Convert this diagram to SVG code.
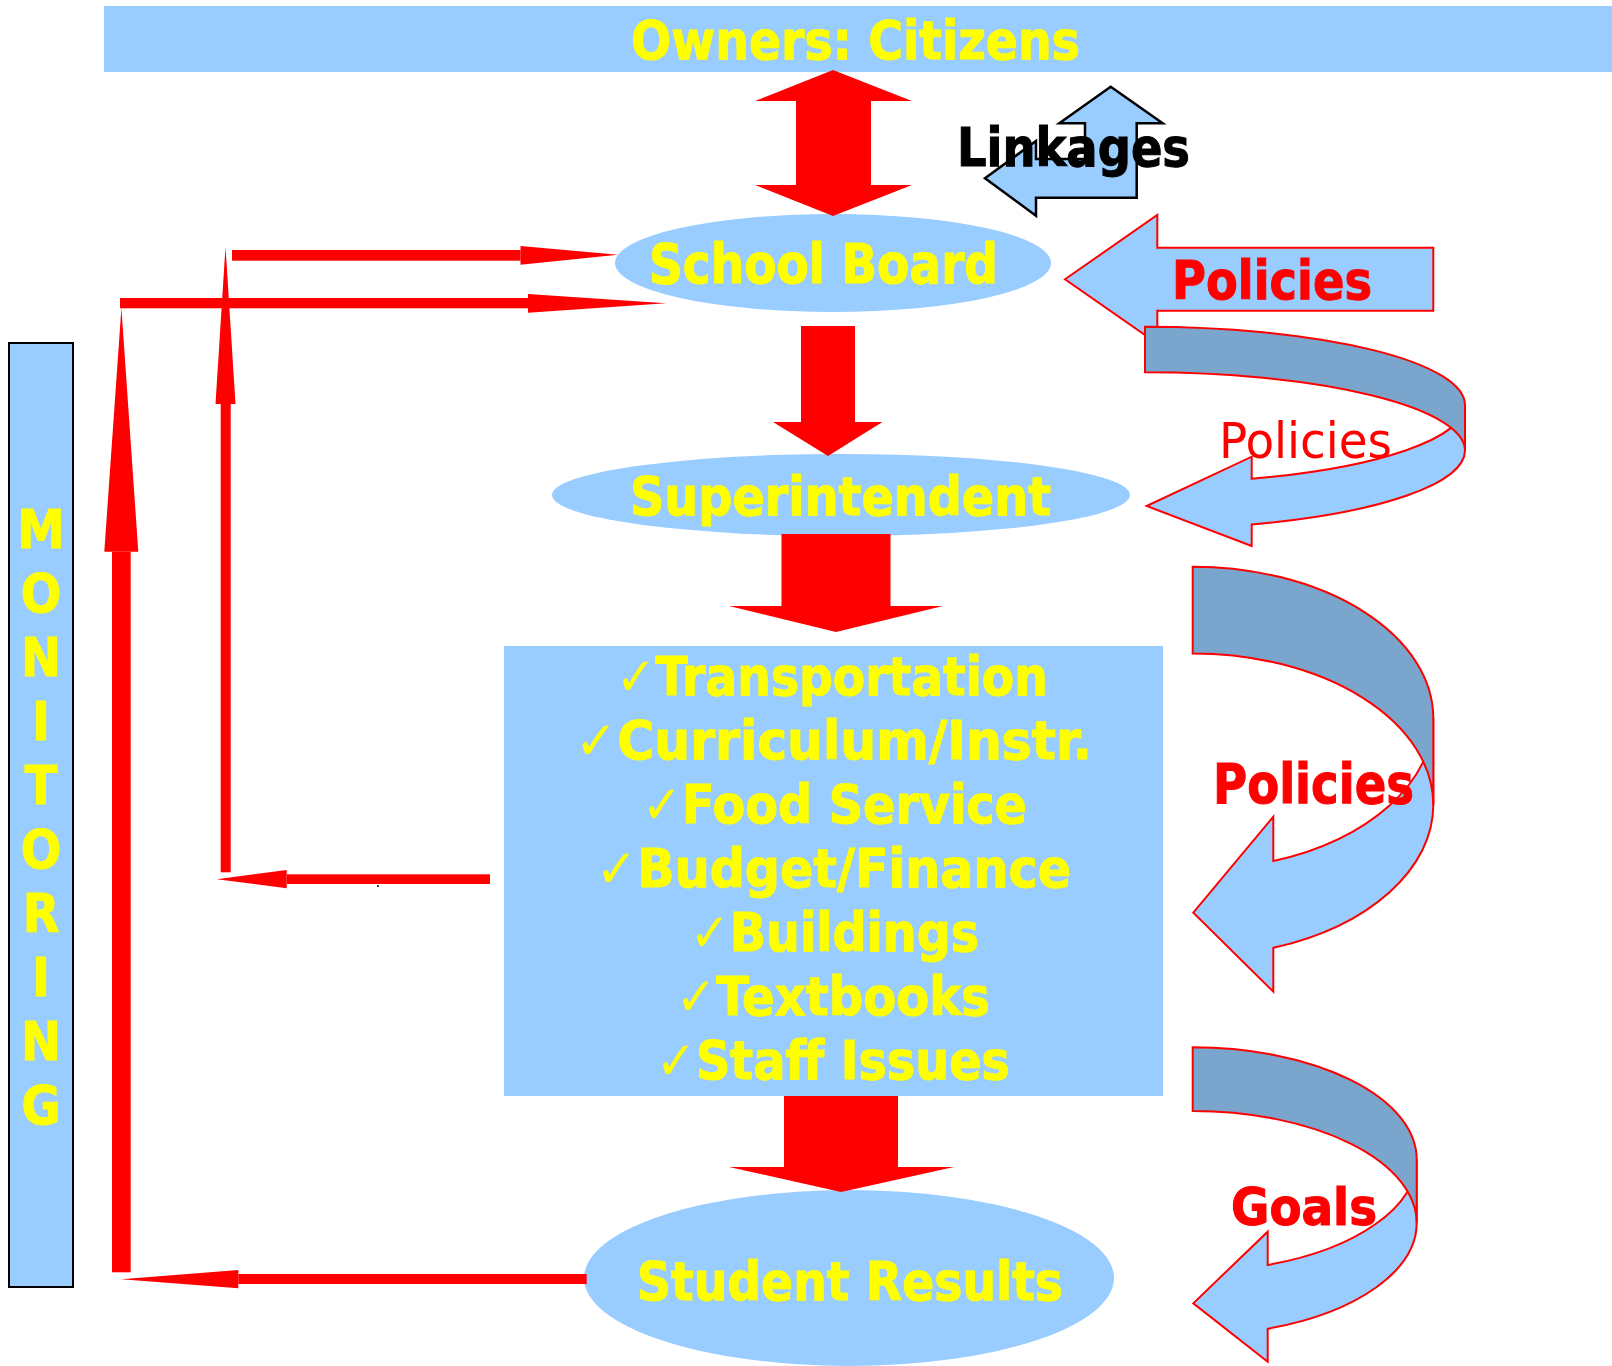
<svg xmlns="http://www.w3.org/2000/svg" width="1612" height="1366" viewBox="0 0 1612 1366">
  <style>
    .lbl { font-family: "DejaVu Sans Condensed", "DejaVu Sans", sans-serif; font-weight: bold; stroke-width: 1; }
    .yel { fill: #FFFF00; stroke: #FFFF00; }
    .red { fill: #FF0000; }
    .lbl.red { stroke: #FF0000; }
    .blk { fill: #000000; stroke: #000000; }
    .node { fill: #99CCFF; }
    .boxed { fill: #99CCFF; stroke: #000000; stroke-width: 2; }
    .flow { fill: #FF0000; }
    .band-light { fill: #99CCFF; stroke: #FF0000; stroke-width: 2; stroke-linejoin: miter; }
    .band-dark { fill: #7AA5CC; stroke: #FF0000; stroke-width: 2; }
    .chk { font-weight: normal; stroke-width: 0; }
  </style>

  <rect width="1612" height="1366" fill="#FFFFFF"/>

  <!-- Owners band -->
  <g id="owners">
    <rect class="node" x="104" y="6" width="1508" height="66"/>
    <text class="lbl yel" x="631" y="59" font-size="54" textLength="449" lengthAdjust="spacingAndGlyphs">Owners: Citizens</text>
  </g>

  <!-- Monitoring column -->
  <g id="monitoring">
    <rect class="boxed" x="9" y="343" width="64" height="944"/>
    <g class="lbl yel" font-size="53" text-anchor="middle">
      <text x="41" y="548">M</text>
      <text x="41" y="612">O</text>
      <text x="41" y="676">N</text>
      <text x="41" y="740">I</text>
      <text x="41" y="804">T</text>
      <text x="41" y="868">O</text>
      <text x="41" y="932">R</text>
      <text x="41" y="996">I</text>
      <text x="41" y="1060">N</text>
      <text x="41" y="1124">G</text>
    </g>
  </g>

  <!-- School Board -->
  <g id="school-board">
    <ellipse class="node" cx="833" cy="263" rx="218" ry="49"/>
    <text class="lbl yel" x="649" y="283" font-size="55" textLength="349" lengthAdjust="spacingAndGlyphs">School Board</text>
  </g>

  <!-- Superintendent -->
  <g id="superintendent">
    <ellipse class="node" cx="841" cy="495" rx="289" ry="41"/>
    <text class="lbl yel" x="630" y="515" font-size="54" textLength="421" lengthAdjust="spacingAndGlyphs">Superintendent</text>
  </g>

  <!-- Operations list -->
  <g id="operations">
    <rect class="node" x="504" y="646" width="659" height="450"/>
    <g class="lbl yel" font-size="53">
      <text x="616" y="695" textLength="432" lengthAdjust="spacingAndGlyphs"><tspan class="chk">✓</tspan>Transportation</text>
      <text x="575" y="759" textLength="517" lengthAdjust="spacingAndGlyphs"><tspan class="chk">✓</tspan>Curriculum/Instr.</text>
      <text x="642" y="823" textLength="385" lengthAdjust="spacingAndGlyphs"><tspan class="chk">✓</tspan>Food Service</text>
      <text x="596" y="887" textLength="475" lengthAdjust="spacingAndGlyphs"><tspan class="chk">✓</tspan>Budget/Finance</text>
      <text x="690" y="951" textLength="289" lengthAdjust="spacingAndGlyphs"><tspan class="chk">✓</tspan>Buildings</text>
      <text x="676" y="1015" textLength="314" lengthAdjust="spacingAndGlyphs"><tspan class="chk">✓</tspan>Textbooks</text>
      <text x="656" y="1079" textLength="354" lengthAdjust="spacingAndGlyphs"><tspan class="chk">✓</tspan>Staff Issues</text>
    </g>
  </g>

  <!-- Student Results -->
  <g id="student-results">
    <ellipse class="node" cx="849" cy="1278" rx="265" ry="88"/>
    <text class="lbl yel" x="637" y="1300" font-size="54" textLength="426" lengthAdjust="spacingAndGlyphs">Student Results</text>
  </g>

  <!-- Linkages bent arrow -->
  <g id="linkages">
    <path d="M1110.7,86.7 L1162.7,123.3 L1136.7,123.3 L1136.7,197.7 L1036,197.7 L1036,215.7 L985,178.3 L1036,141 L1036,159 L1085,159 L1085,123.3 L1059.3,123.3 Z" fill="#99CCFF" stroke="#000000" stroke-width="2.5" stroke-linejoin="miter"/>
    <text class="lbl blk" x="957" y="166" font-size="54" textLength="233" lengthAdjust="spacingAndGlyphs">Linkages</text>
  </g>

  <!-- Policies block arrow into the board -->
  <g id="policies-board">
    <path class="band-light" d="M1065,279.3 L1157.3,215 L1157.3,247.7 L1433.3,247.7 L1433.3,310.7 L1157.3,310.7 L1157.3,343.6 Z"/>
    <text class="lbl red" x="1172" y="299" font-size="54" textLength="200" lengthAdjust="spacingAndGlyphs">Policies</text>
  </g>

  <!-- Curved arrow: policies to superintendent -->
  <g id="policies-superintendent">
    <path class="band-light" d="M1465,450.6 A320,78.3 0 0 1 1251.7,524.4 L1251.7,546 L1146.7,506 L1251.7,456.7 L1251.7,478.8 A320,78.3 0 0 0 1465,405 Z"/>
    <path class="band-dark" d="M1145,326.7 A320,78.3 0 0 1 1465,405 L1465,450.6 A320,78.3 0 0 0 1145,372.3 Z"/>
    <text class="red" x="1219" y="458" font-family="DejaVu Sans Condensed, DejaVu Sans, sans-serif" font-size="50" textLength="173" lengthAdjust="spacingAndGlyphs">Policies</text>
  </g>

  <!-- Curved arrow: policies to operations -->
  <g id="policies-operations">
    <path class="band-light" d="M1433.3,805 A240.6,151.6 0 0 1 1273.3,947.8 L1273.3,991.7 L1193.3,912.7 L1273.3,816.7 L1273.3,861.1 A240.6,151.6 0 0 0 1433.3,718.3 Z"/>
    <path class="band-dark" d="M1192.7,566.7 A240.6,151.6 0 0 1 1433.3,718.3 L1433.3,805 A240.6,151.6 0 0 0 1192.7,653.4 Z"/>
    <text class="lbl red" x="1213" y="803" font-size="55" textLength="201" lengthAdjust="spacingAndGlyphs">Policies</text>
  </g>

  <!-- Curved arrow: goals to results -->
  <g id="goals-results">
    <path class="band-light" d="M1416.7,1223.1 A224,112.1 0 0 1 1267.7,1328.7 L1267.7,1361.7 L1193.3,1303.3 L1267.7,1231.7 L1267.7,1265 A224,112.1 0 0 0 1416.7,1159.4 Z"/>
    <path class="band-dark" d="M1192.7,1047.3 A224,112.1 0 0 1 1416.7,1159.4 L1416.7,1223.1 A224,112.1 0 0 0 1192.7,1111 Z"/>
    <text class="lbl red" x="1231" y="1225" font-size="52" textLength="146" lengthAdjust="spacingAndGlyphs">Goals</text>
  </g>

  <!-- Connectors -->
  <g id="connectors" class="flow">
    <!-- owners <-> board -->
    <path d="M833,70 L912,101 L871,101 L871,185 L912,185 L833,216 L755,185 L796,185 L796,101 L755,101 Z"/>
    <!-- board -> superintendent -->
    <path d="M801,326 L855,326 L855,422 L882.5,422 L828,456 L773,422 L801,422 Z"/>
    <!-- superintendent -> operations -->
    <path d="M781.5,534 L890.5,534 L890.5,606 L943,606 L836,632 L729,606 L781.5,606 Z"/>
    <!-- operations -> results -->
    <path d="M784,1096 L898,1096 L898,1167 L954,1167 L841,1192 L729,1167 L784,1167 Z"/>

    <!-- operations feedback: left, up, right to board -->
    <rect x="286.7" y="874.3" width="203.3" height="9.7"/>
    <path d="M286.7,870 L216.7,879.3 L286.7,888.3 Z"/>
    <rect x="220.7" y="404" width="10" height="468.3"/>
    <path d="M215.5,404 L225.5,246.7 L235.5,404 Z"/>
    <rect x="232" y="250" width="288.5" height="10.7"/>
    <path d="M520.5,246 L618,254.7 L520.5,264.7 Z"/>

    <!-- results monitoring: left, up, right to board -->
    <rect x="238.3" y="1274" width="348.4" height="10"/>
    <path d="M238.3,1270 L121,1279.3 L238.3,1288.3 Z"/>
    <rect x="112" y="551.7" width="18.7" height="720.6"/>
    <path d="M104.3,551.7 L121.4,308 L138.3,551.7 Z"/>
    <rect x="120" y="298" width="408" height="10.3"/>
    <path d="M528,294 L666,303.3 L528,312.7 Z"/>
  </g>

  <circle cx="378" cy="886" r="1" fill="#000000"/>
</svg>
